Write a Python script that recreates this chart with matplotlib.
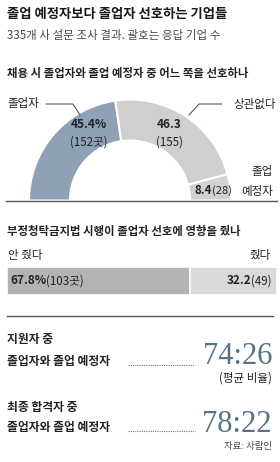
import matplotlib
matplotlib.use("Agg")
import matplotlib.pyplot as plt
from matplotlib.patches import Wedge

plt.rcParams['font.family'] = ['Noto Sans CJK KR', 'DejaVu Sans']

# 데이터
pref_labels = ['졸업자', '상관없다', '졸업 예정자']
pref_pct = [45.4, 46.3, 8.4]
pref_cnt = [152, 155, 28]
pref_colors = ['#8fa2b5', '#cfcfcf', '#d2d2d2']

law_labels = ['안 줬다', '줬다']
law_pct = [67.8, 32.2]
law_cnt = [103, 49]
law_colors = ['#b3b3b3', '#d9d9d9']

ratio_rows = ['지원자 중\n졸업자와 졸업 예정자', '최종 합격자 중\n졸업자와 졸업 예정자']
ratio_vals = [(74, 26), (78, 22)]

W, H = 280, 462
fig = plt.figure(figsize=(W / 100, H / 100), dpi=100)
bg = fig.add_axes([0, 0, 1, 1])
bg.set_xlim(0, W)
bg.set_ylim(H, 0)
bg.axis('off')
bg.set_zorder(10)

dark = '#222222'

# 제목
bg.text(7, 14, '졸업 예정자보다 졸업자 선호하는 기업들', fontsize=9.6, fontweight='heavy',
        color='#1a1a1a', va='center')
bg.text(7, 36, '335개 사 설문 조사 결과. 괄호는 응답 기업 수', fontsize=8.3,
        color='#4a4a4a', va='center')

# 1. 반원 도넛
bg.text(7, 73, '채용 시 졸업자와 졸업 예정자 중 어느 쪽을 선호하나', fontsize=8.2,
        fontweight='bold', color=dark, va='center')

cx, cy, R, r_in = 130, 200.5, 101, 60
dax = fig.add_axes([(cx - 105) / W, (H - cy) / H, 210 / W, 105 / H])
dax.set_xlim(-105, 105)
dax.set_ylim(0, 105)
dax.axis('off')
start = 180.0
for p, c in zip(pref_pct, pref_colors):
    sweep = 180.0 * p / sum(pref_pct)
    dax.add_patch(Wedge((0, 0), R, start - sweep, start, width=R - r_in,
                        facecolor=c, edgecolor='white', linewidth=1.5))
    start -= sweep

bg.plot([6, 277], [cy, cy], color='#555555', lw=1.0)

# 라벨 / 지시선
bg.text(7, 104, pref_labels[0], fontsize=8.3, color=dark, va='center')
bg.plot([46, 73, 80], [104, 104, 115], color='#444444', lw=0.7)
bg.text(276, 104, pref_labels[1], fontsize=8.3, color=dark, va='center', ha='right')
bg.plot([222, 199, 189], [104, 104, 115], color='#444444', lw=0.7)

bg.text(89, 125, f'{pref_pct[0]}%', fontsize=8.5, fontweight='bold', color=dark,
        ha='center', va='center')
bg.text(89, 142, f'({pref_cnt[0]}곳)', fontsize=8.3, color=dark, ha='center', va='center')
bg.text(169, 125, f'{pref_pct[1]}', fontsize=8.5, fontweight='bold', color=dark,
        ha='center', va='center')
bg.text(169, 142, f'({pref_cnt[1]})', fontsize=8.3, color=dark, ha='center', va='center')

bg.text(273, 172, '졸업', fontsize=8.3, color=dark, ha='right', va='center')
bg.text(273, 191, '예정자', fontsize=8.3, color=dark, ha='right', va='center')
bg.text(212, 191, f'{pref_pct[2]}', fontsize=8.3, fontweight='bold', color=dark,
        ha='right', va='center')
bg.text(212, 191, f'({pref_cnt[2]})', fontsize=8.0, color=dark, ha='left', va='center')

# 2. 막대
bg.text(7, 232, '부정청탁금지법 시행이 졸업자 선호에 영향을 줬나', fontsize=8.2,
        fontweight='bold', color=dark, va='center')
bg.text(8, 255, law_labels[0], fontsize=8.3, color=dark, va='center')
bg.text(271, 255, law_labels[1], fontsize=8.3, color=dark, va='center', ha='right')

bax = fig.add_axes([7 / W, (H - 295) / H, 270 / W, 28 / H])
bax.set_xlim(0, 100)
bax.set_ylim(-0.5, 0.5)
bax.axis('off')
left = 0
for p, c in zip(law_pct, law_colors):
    bax.barh(0, p, left=left, height=1.0, color=c, edgecolor='white', linewidth=1.2)
    left += p

t1 = bg.text(10, 281, f'{law_pct[0]}%', fontsize=8.5, fontweight='bold', color=dark,
             va='center')
fig.canvas.draw()
inv = bg.transData.inverted()
x_end = inv.transform((t1.get_window_extent().x1, 0))[0]
bg.text(x_end, 281, f'({law_cnt[0]}곳)', fontsize=8.3, color=dark, va='center')
t2 = bg.text(271, 281, f'({law_cnt[1]})', fontsize=8.3, color=dark, va='center', ha='right')
fig.canvas.draw()
x_start = inv.transform((t2.get_window_extent().x0, 0))[0]
bg.text(x_start + 0.5, 281, f'{law_pct[1]}', fontsize=8.5, fontweight='bold', color=dark,
        va='center', ha='right')

# 3. 비율
bg.plot([7, 273], [316, 316], color='#555555', lw=1.0)
row_y = [(340, 362, 364), (407, 428, 432)]
for txt, (a, b), (y1, y2, yb) in zip(ratio_rows, ratio_vals, row_y):
    l1, l2 = txt.split('\n')
    bg.text(7, y1, l1, fontsize=8.5, fontweight='bold', color=dark, va='center')
    bg.text(7, y2, l2, fontsize=8.5, fontweight='bold', color=dark, va='center')
    bg.plot([128, 195], [y2 + 3, y2 + 3], color='#777777', lw=0.8, ls=(0, (1, 1)))
    bg.text(272, yb, f'{a}:{b}', fontsize=22, family='Liberation Serif',
            color='#56718a', ha='right', va='baseline')

bg.text(272, 378, '(평균 비율)', fontsize=8.3, color=dark, ha='right', va='center')
bg.text(272, 447, '자료: 사람인', fontsize=6.8, color='#444444', ha='right', va='center')

fig.savefig('out.png', dpi=100)
